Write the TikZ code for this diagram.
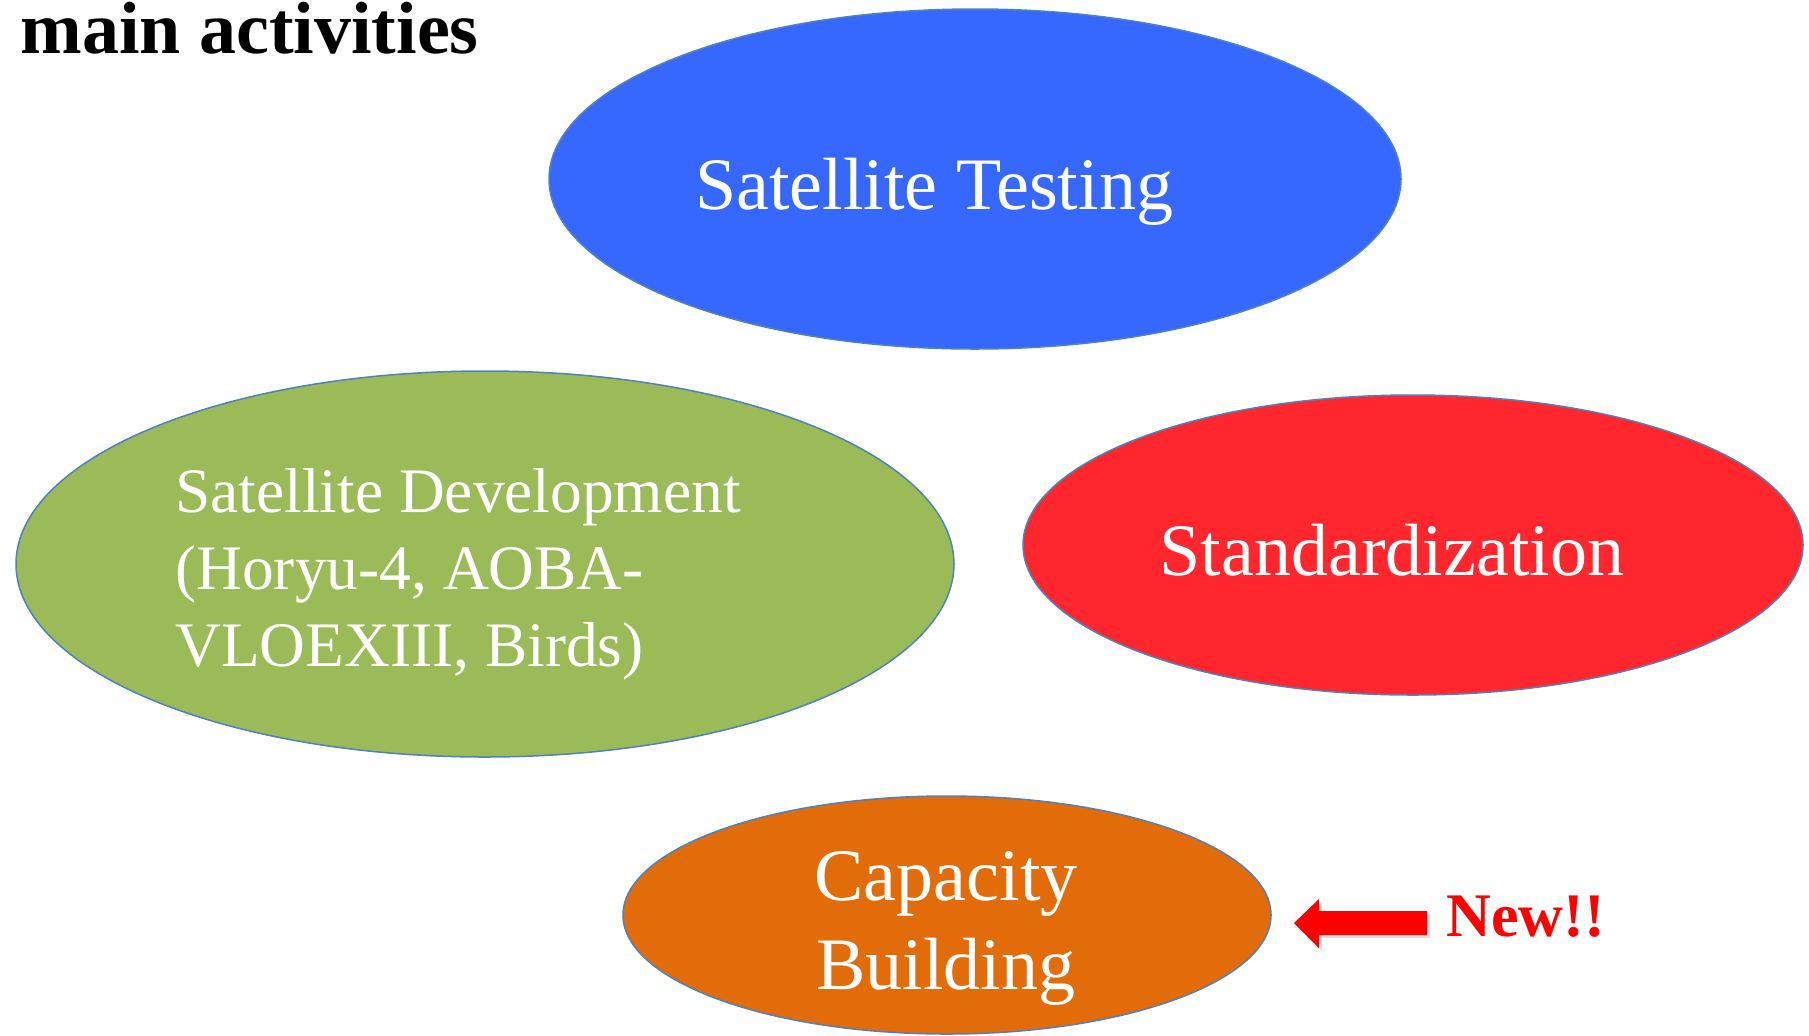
\documentclass[tikz,border=0pt]{standalone}
\usepackage{fontspec}
\setmainfont{Liberation Serif}
\usetikzlibrary{shapes.geometric,shadows}
\definecolor{testblue}{RGB}{54,104,255}
\definecolor{devgreen}{RGB}{155,187,89}
\definecolor{stdred}{RGB}{255,38,45}
\definecolor{caporange}{RGB}{227,108,10}
\definecolor{rimblue}{RGB}{79,129,189}

\begin{document}
\begin{tikzpicture}[x=0.5pt, y=-0.5pt,
  activity/.style={ellipse, draw=rimblue, line width=0.75pt, inner sep=0pt},
  actlabel/.style={text=white, inner sep=0pt}]
  \useasboundingbox (0,0) rectangle (1809,1035);
  \node[anchor=base west, inner sep=0pt, font=\fontsize{37}{44}\selectfont\bfseries] (title) at (20,53) {main activities};
  % the four activity ellipses
  \node[activity, fill=testblue, minimum width=426pt, minimum height=170pt] (testing) at (975,179) {};
  \node[activity, fill=devgreen, minimum width=469pt, minimum height=193pt] (develop) at (485,564) {};
  \node[activity, fill=stdred, minimum width=390pt, minimum height=150pt] (standard) at (1413,545) {};
  \node[activity, fill=caporange, minimum width=324pt, minimum height=119pt] (capacity) at (947,915) {};
  % their texts (multi-line ones sit on their last baseline)
  \node[actlabel, anchor=base, font=\fontsize{37}{44}\selectfont] (testtxt) at (934,209) {Satellite Testing};
  \node[actlabel, anchor=base west, align=left, font=\fontsize{31.7}{38.5}\selectfont] (devtxt) at (175,666)
    {Satellite Development\\(Horyu-4, AOBA-\\VLOEXIII, Birds)};
  \node[actlabel, anchor=base, font=\fontsize{37}{44}\selectfont] (stdtxt) at (1392,575) {Standardization};
  \node[actlabel, anchor=base, align=center, font=\fontsize{37}{44.5}\selectfont] (captxt) at (946,989) {Capacity\\Building};
  % new marker
  \fill[red, drop shadow={opacity=0.25, shadow xshift=1.5pt, shadow yshift=-1.5pt}]
    (1294,923) -- (1319,899) -- (1319,911) -- (1427,911) -- (1427,935) -- (1319,935) -- (1319,948) -- cycle;
  \node[anchor=base west, inner sep=0pt, text=red, font=\fontsize{31}{37}\selectfont\bfseries] (newtxt) at (1446,936) {New!!};
\end{tikzpicture}
\end{document}
